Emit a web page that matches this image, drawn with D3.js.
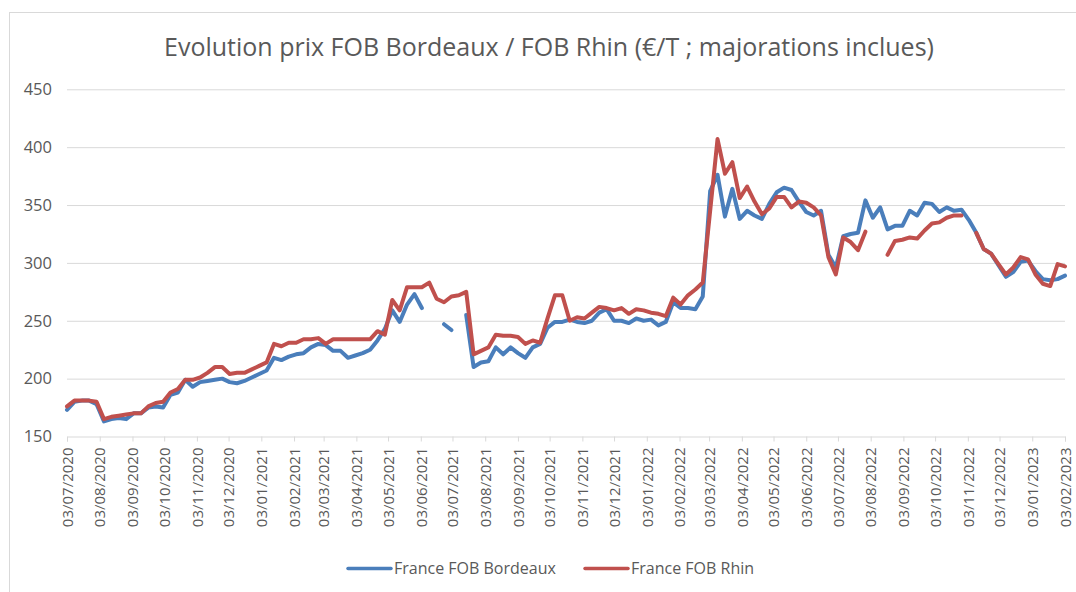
<!DOCTYPE html>
<html>
<head>
<meta charset="utf-8">
<script src="https://cdn.jsdelivr.net/npm/d3@7"></script>
<style>
    body { margin: 0; background: #fff; }
    #chart { width: 1076px; height: 592px; }
    .chart text { font-family: "Open Sans", sans-serif; fill: #595959; }
    .grid line { stroke: #d9d9d9; stroke-width: 1; }
    .grid .domain { display: none; }
    .axis--x .domain, .axis--x line { stroke: #d9d9d9; }
    .axis--y .domain, .axis--y line { display: none; }
    .line { fill: none; stroke-width: 4; stroke-linejoin: round; stroke-linecap: round; }
</style>
</head>
<body>
<div id="chart"></div>
<script>
// weekly quotes, every friday from 03/07/2020 to 03/02/2023 (null = no quote)
const startDate = new Date(2020, 6, 3);

const bordeaux = [
    173, 180, 181, 181, 178, 163, 165, 166, 165, 170, 170, 175, 176, 175, 186, 188,
    199, 193, 197, 198, 199, 200, 197, 196, 198, 201, 204, 207, 218, 216, 219, 221,
    222, 227, 230, 229, 224, 224, 218, 220, 222, 225, 233, 243, 259, 249, 264, 273,
    261, null, null, 247, 242, null, 255, 210, 214, 215, 227, 221, 227, 222, 218, 227,
    230, 244, 249, 249, 251, 249, 248, 250, 257, 260, 250, 250, 248, 252, 250, 251,
    246, 249, 266, 261, 261, 260, 271, 362, 376, 340, 364, 338, 345, 341, 338, 351,
    361, 365, 363, 353, 344, 341, 345, 307, 296, 323, 325, 326, 354, 339, 348, 329,
    332, 332, 345, 341, 352, 351, 344, 348, 345, 346, 337, 326, 312, 308, 298, 288,
    292, 301, 302, 293, 286, 285, 286, 289
];

const rhin = [
    176, 181, 181, 181, 180, 165, 167, 168, 169, 170, 170, 176, 179, 180, 188, 191,
    199, 199, 201, 205, 210, 210, 204, 205, 205, 208, 211, 214, 230, 228, 231, 231,
    234, 234, 235, 230, 234, 234, 234, 234, 234, 234, 241, 238, 268, 259, 279, 279,
    279, 283, 269, 266, 271, 272, 275, 221, 224, 227, 238, 237, 237, 236, 230, 233,
    231, 252, 272, 272, 250, 253, 252, 257, 262, 261, 259, 261, 256, 260, 259, 257,
    256, 254, 270, 264, 272, 277, 283, 345, 407, 377, 387, 356, 366, 353, 342, 347,
    357, 357, 348, 353, 352, 348, 341, 305, 290, 322, 318, 311, 327, null, null, 307,
    319, 320, 322, 321, 328, 334, 335, 339, 341, 341, null, 326, 312, 308, 299, 290,
    296, 305, 303, 290, 282, 280, 299, 297
];

const seriesNames = ['France FOB Bordeaux', 'France FOB Rhin'];
const yTicks = [150, 200, 250, 300, 350, 400, 450];
// month ticks on the 3rd, 03/07/2020 .. 03/02/2023
const xTicks = d3.range(0, 32).map(function(k){ return new Date(2020, 6 + k, 3); });

class PriceChart {

    constructor(selection, config = {}) {
        this.selection = selection;
        this.cfg = {
            'width': 1076,
            'height': 592,
            'plot': {'left': 67, 'right': 1065, 'top': 89.3, 'bottom': 436.5},
            'colors': ['#4a7ebb', '#c0504d'],
            'title': 'Evolution prix FOB Bordeaux / FOB Rhin (€/T ; majorations inclues)'
        };
        Object.keys(config).forEach((k) => { this.cfg[k] = config[k]; });

        // one date per weekly quote
        this.dates = bordeaux.map(function(v, i){ return d3.timeDay.offset(startDate, 7 * i); });

        this.xScale = d3.scaleTime()
            .domain([xTicks[0], xTicks[xTicks.length - 1]])
            .range([this.cfg.plot.left, this.cfg.plot.right]);
        this.yScale = d3.scaleLinear()
            .domain([150, 450])
            .range([this.cfg.plot.bottom, this.cfg.plot.top]);

        this.draw();
    }

    draw() {
        let self = this;
        const p = this.cfg.plot;

        this.svg = this.selection.append('svg')
            .attr('class', 'chart')
            .attr('width', this.cfg.width)
            .attr('height', this.cfg.height);

        // frame
        this.svg.append('rect')
            .attr('x', 9.5).attr('y', 12.5)
            .attr('width', this.cfg.width + 10).attr('height', this.cfg.height + 10)
            .attr('fill', 'none').attr('stroke', '#d9d9d9');

        // TITLE
        this.svg.append('text')
            .attr('x', 549).attr('y', 56)
            .attr('text-anchor', 'middle')
            .style('font-size', '25px')
            .text(this.cfg.title);

        // GRIDLINES
        this.svg.append('g')
            .attr('class', 'grid')
            .attr('transform', 'translate(' + p.left + ',0)')
            .call(d3.axisLeft(this.yScale).tickValues(yTicks.slice(1)).tickSize(-(p.right - p.left)).tickFormat(''));

        // Y AXIS
        this.svg.append('g')
            .attr('class', 'axis axis--y')
            .attr('transform', 'translate(' + (p.left - 15) + ',0)')
            .call(d3.axisLeft(this.yScale).tickValues(yTicks).tickSize(0).tickPadding(0))
            .selectAll('text').style('font-size', '16.5px');

        // X AXIS
        const xAxis = this.svg.append('g')
            .attr('class', 'axis axis--x')
            .attr('transform', 'translate(0,' + p.bottom + ')')
            .call(d3.axisBottom(this.xScale).tickValues(xTicks).tickSizeOuter(0).tickSize(5).tickFormat(d3.timeFormat('%d/%m/%Y')));
        xAxis.selectAll('text')
            .style('font-size', '15px')
            .attr('text-anchor', 'end')
            .attr('transform', 'rotate(-90)')
            .attr('x', -11).attr('y', 0).attr('dy', '0.35em');

        // LINES
        const line = d3.line()
            .defined(function(d){ return d.v !== null; })
            .x(function(d){ return self.xScale(d.x); })
            .y(function(d){ return self.yScale(d.v); });

        [bordeaux, rhin].forEach(function(values, k){
            const pts = values.map(function(v, i){ return {'x': self.dates[i], 'v': v}; });
            self.svg.append('path')
                .attr('class', 'line')
                .attr('stroke', self.cfg.colors[k])
                .attr('d', line(pts));
        });

        // LEGEND
        const legendX = [348, 585];
        const leg = this.svg.selectAll('.legend').data(seriesNames).enter()
            .append('g').attr('class', 'legend')
            .attr('transform', function(d, i){ return 'translate(' + legendX[i] + ',568.5)'; });
        leg.append('line')
            .attr('x1', 0).attr('x2', 43)
            .attr('stroke', function(d, i){ return self.cfg.colors[i]; })
            .attr('stroke-width', 3.5).attr('stroke-linecap', 'round');
        leg.append('text')
            .attr('x', 46).attr('dy', '0.35em')
            .style('font-size', '16px')
            .text(function(d){ return d; });
    }
}

new PriceChart(d3.select('#chart'));
</script>
</body>
</html>
